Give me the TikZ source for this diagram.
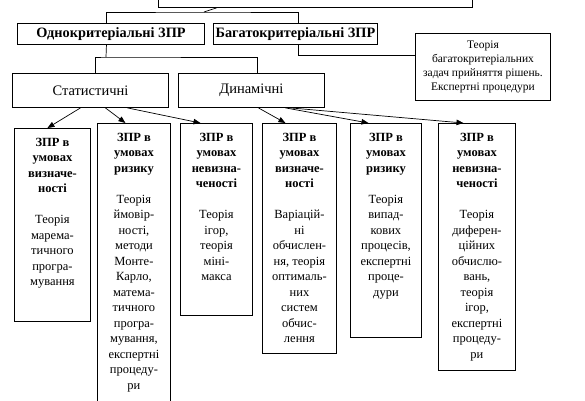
\documentclass[tikz,border=0pt]{standalone}
\usepackage{fontspec}
\setmainfont{Liberation Serif}
\usetikzlibrary{arrows.meta}
\tikzset{
  box/.style={draw, line width=0.9pt, inner sep=0pt, anchor=north west},
  hbox/.style={box, font=\fontsize{14.3}{16}\selectfont\bfseries},
  sbox/.style={box, font=\fontsize{14.5}{17}\selectfont},
  conn/.style={line width=0.7pt},
  arr/.style={line width=0.7pt, -{Triangle[length=7pt,width=5.5pt]}},
}
\newcommand\bxt[3]{\parbox[c][#2][t]{#1}{\centering\fontsize{12.5}{15.5}\selectfont #3\par}}
\newcommand\hd{\rule{0pt}{18pt}}
\begin{document}
\begin{tikzpicture}[x=1pt,y=-1pt]
\useasboundingbox (0,0) rectangle (585,400);
% top level
\node[box, minimum width=314pt, minimum height=27pt] (top) at (158,-20) {};
\node[hbox, minimum width=187pt, minimum height=21pt] (od) at (17,23) {Однокритеріальні ЗПР};
\node[hbox, minimum width=164pt, minimum height=21pt] (bg) at (213,23) {Багатокритеріальні ЗПР};
\node[box, minimum width=135pt, minimum height=67pt, align=center,
      font=\fontsize{11.5}{14}\selectfont] (th) at (415,33)
  {\rule{0pt}{4pt}Теорія\\ багатокритеріальних\\ задач прийняття рішень.\\ Експертні процедури};
\node[sbox, minimum width=156pt, minimum height=34pt] (st) at (12,73) {Статистичні};
\node[sbox, minimum width=146pt, minimum height=34pt] (dy) at (178,73) {Динамічні};
% bottom boxes
\node[box] (b1) at (14,128) {\bxt{76pt}{193pt}{{\bfseries\hd ЗПР в\\ умовах\\ визначе-\\ ності}\\[15.5pt]
  Теорія\\ марема-\\ тичного\\ програ-\\ мування}};
\node[box] (b2) at (97,123) {\bxt{73pt}{285pt}{{\bfseries\hd ЗПР в\\ умовах\\ ризику}\\[15.5pt]
  Теорія\\ ймовір-\\ ності,\\ методи\\ Монте-\\ Карло,\\ матема-\\ тичного\\ програ-\\ мування,\\ експертні\\ процеду-\\ ри}};
\node[box] (b3) at (180,123) {\bxt{72pt}{192pt}{{\bfseries\hd ЗПР в\\ умовах\\ невизна-\\ ченості}\\[15.5pt]
  Теорія\\ ігор,\\ теорія\\ міні-\\ макса}};
\node[box] (b4) at (262,123) {\bxt{74pt}{230pt}{{\bfseries\hd ЗПР в\\ умовах\\ визначе-\\ ності}\\[15.5pt]
  Варіацій-\\ ні\\ обчислен-\\ ня, теорія\\ оптималь-\\ них\\ систем\\ обчис-\\ лення}};
\node[box] (b5) at (350,123) {\bxt{71pt}{214pt}{{\bfseries\hd ЗПР в\\ умовах\\ ризику}\\[15.5pt]
  Теорія\\ випад-\\ кових\\ процесів,\\ експертні\\ проце-\\ дури}};
\node[box] (b6) at (438,123) {\bxt{77pt}{247pt}{{\bfseries\hd ЗПР в\\ умовах\\ невизна-\\ ченості}\\[15.5pt]
  Теорія\\ диферен-\\ ційних\\ обчислю-\\ вань,\\ теорія\\ ігор,\\ експертні\\ процеду-\\ ри}};
% connectors
\coordinate (j0) at (204,12);
\coordinate (j1) at (106,57);
\draw[conn] ([xshift=-99pt]top.south) -- (j0);
\draw[conn] ([xshift=-4.5pt]od.north) |- (j0) -| ([xshift=3pt]bg.north);
\draw[conn] ([xshift=3pt]bg.south) |- ([yshift=11.5pt]th.west);
\draw[conn] ([xshift=-4.5pt]od.south) -- (j1);
\draw[conn] ([xshift=5pt]st.north) |- (j1) -| ([xshift=6pt]dy.north);
\draw[arr] ([xshift=-10pt]st.south) -- ([xshift=-5pt]b1.north);
\draw[arr] ([xshift=15pt]st.south) -- ([xshift=-8.5pt]b2.north);
\draw[arr] ([xshift=37pt]st.south) -- ([xshift=-16pt]b3.north);
\draw[arr] ([xshift=7pt]dy.south) -- ([xshift=-14pt]b4.north);
\draw[arr] ([xshift=34pt]dy.south) -- ([xshift=-17.5pt]b5.north);
\draw[arr] ([xshift=39pt]dy.south) -- ([xshift=-13.5pt]b6.north);
\end{tikzpicture}
\end{document}
